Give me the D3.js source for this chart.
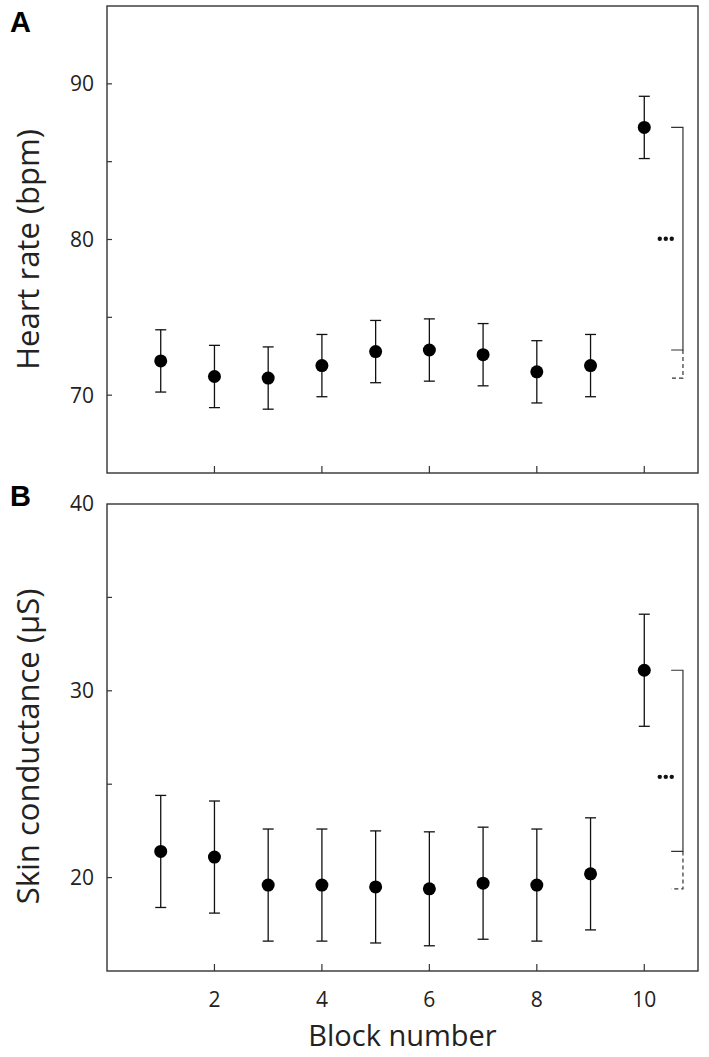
<!DOCTYPE html>
<html>
<head>
<meta charset="utf-8">
<script src="https://cdn.jsdelivr.net/npm/d3@7"></script>
<style>
  body { margin: 0; background: #fff; }
  svg { display: block; }
  .tickLabel { font-family: "Open Sans", "Noto Sans", sans-serif; font-size: 21px; fill: #222; }
  .axisTitle { font-family: "Open Sans", "Noto Sans", sans-serif; font-size: 31px; fill: #222; }
  .panelLetter { font-family: "Liberation Sans", Arial, sans-serif; font-size: 29px; font-weight: bold; fill: #000; }
</style>
</head>
<body>
<div id="chart"></div>
<script>
// 資料
var blocks = [1, 2, 3, 4, 5, 6, 7, 8, 9, 10];
var heartRate = [72.2, 71.2, 71.1, 71.9, 72.8, 72.9, 72.6, 71.5, 71.9, 87.2];
var heartRateErr = [2.0, 2.0, 2.0, 2.0, 2.0, 2.0, 2.0, 2.0, 2.0, 2.0];
var skinCond = [21.4, 21.1, 19.6, 19.6, 19.5, 19.4, 19.7, 19.6, 20.2, 31.1];
var skinCondErr = [3.0, 3.0, 3.0, 3.0, 3.0, 3.05, 3.0, 3.0, 3.0, 3.0];
var xTicks = [2, 4, 6, 8, 10];
var hrTicks = [70, 75, 80, 85, 90];
var scTicks = [20, 25, 30, 35, 40];

// 畫布
const width = 709, height = 1057;
const svg = d3.select('#chart').append('svg')
  .attr('width', width)
  .attr('height', height);

const xScale = d3.scaleLinear().domain([0, 11]).range([107, 698]);

function drawPanel(opt) {
  const y = d3.scaleLinear().domain(opt.domain).range(opt.range);
  const g = svg.append('g');
  const top = opt.range[1], bottom = opt.range[0];

  // 外框
  g.append('rect')
    .attr('x', xScale(0)).attr('y', top)
    .attr('width', xScale(11) - xScale(0))
    .attr('height', bottom - top)
    .attr('fill', 'none').attr('stroke', '#333').attr('stroke-width', 1.4);

  // Y軸刻度 (向內)
  g.selectAll('line.ytick')
    .data(opt.yTicks.filter(d => d > opt.domain[0] && d < opt.domain[1]))
    .enter().append('line')
    .attr('x1', xScale(0)).attr('x2', xScale(0) + 5)
    .attr('y1', d => y(d)).attr('y2', d => y(d))
    .attr('stroke', '#333').attr('stroke-width', 1.2);
  g.selectAll('text.ylab')
    .data(opt.yTicks.filter(d => d % 10 == 0))
    .enter().append('text')
    .attr('class', 'tickLabel')
    .attr('x', xScale(0) - 13)
    .attr('y', d => y(d))
    .attr('dy', '0.35em')
    .attr('text-anchor', 'end')
    .text(d => d);

  // X軸刻度
  g.selectAll('line.xtick')
    .data(xTicks)
    .enter().append('line')
    .attr('x1', d => xScale(d)).attr('x2', d => xScale(d))
    .attr('y1', bottom).attr('y2', bottom - 7)
    .attr('stroke', '#333').attr('stroke-width', 1.2);
  if (opt.xLabels) {
    g.selectAll('text.xlab')
      .data(xTicks)
      .enter().append('text')
      .attr('class', 'tickLabel')
      .attr('x', d => xScale(d))
      .attr('y', bottom + 36)
      .attr('text-anchor', 'middle')
      .text(d => d);
  }

  // 誤差線
  const cap = 5.5;
  const err = g.selectAll('g.err')
    .data(blocks.map((b, i) => ({ b: b, v: opt.values[i], e: opt.errs[i] })))
    .enter().append('g');
  err.append('line')
    .attr('x1', d => xScale(d.b)).attr('x2', d => xScale(d.b))
    .attr('y1', d => y(d.v + d.e)).attr('y2', d => y(d.v - d.e));
  err.append('line')
    .attr('x1', d => xScale(d.b) - cap).attr('x2', d => xScale(d.b) + cap)
    .attr('y1', d => y(d.v + d.e)).attr('y2', d => y(d.v + d.e));
  err.append('line')
    .attr('x1', d => xScale(d.b) - cap).attr('x2', d => xScale(d.b) + cap)
    .attr('y1', d => y(d.v - d.e)).attr('y2', d => y(d.v - d.e));
  err.selectAll('line').attr('stroke', '#111').attr('stroke-width', 1.3);

  // 點
  g.selectAll('circle.pt')
    .data(blocks.map((b, i) => ({ b: b, v: opt.values[i] })))
    .enter().append('circle')
    .attr('cx', d => xScale(d.b))
    .attr('cy', d => y(d.v))
    .attr('r', 6.5)
    .attr('fill', '#000');

  // 顯著性括號
  const others = opt.values.slice(0, 9);
  const hi = opt.values[9], mid = d3.max(others), lo = d3.min(others);
  const bx1 = xScale(10.5), bx2 = xScale(10.72);
  g.append('path')
    .attr('d', `M${bx1},${y(hi)}H${bx2}V${y(mid)}H${bx1}`)
    .attr('fill', 'none').attr('stroke', '#333').attr('stroke-width', 1.2);
  g.append('path')
    .attr('d', `M${bx2},${y(mid)}V${y(lo)}H${bx1}`)
    .attr('fill', 'none').attr('stroke', '#333').attr('stroke-width', 1.2)
    .attr('stroke-dasharray', '4,3');
  const starY = y((hi + mid) / 2) + opt.starShift;
  g.selectAll('circle.star')
    .data([-1, 0, 1])
    .enter().append('circle')
    .attr('cx', d => xScale(10.4) + d * 6)
    .attr('cy', starY)
    .attr('r', 2.2)
    .attr('fill', '#111');

  // 軸標題
  g.append('text')
    .attr('class', 'axisTitle')
    .attr('transform', `translate(39, ${(top + bottom) / 2 + opt.titleShift}) rotate(-90)`)
    .attr('text-anchor', 'middle')
    .text(opt.title);

  // 面板字母
  svg.append('text')
    .attr('class', 'panelLetter')
    .attr('x', 10)
    .attr('y', opt.letterY)
    .text(opt.letter);
}

drawPanel({
  domain: [65, 95], range: [473, 6],
  values: heartRate, errs: heartRateErr, yTicks: hrTicks,
  title: 'Heart rate (bpm)', titleShift: 10, starShift: 0,
  letter: 'A', letterY: 32, xLabels: false
});
drawPanel({
  domain: [15, 40], range: [971, 504],
  values: skinCond, errs: skinCondErr, yTicks: scTicks,
  title: 'Skin conductance (\u00b5S)', titleShift: 9, starShift: 16,
  letter: 'B', letterY: 506, xLabels: true
});

svg.append('text')
  .attr('class', 'axisTitle')
  .attr('x', (xScale(0) + xScale(11)) / 2)
  .attr('y', 1046)
  .attr('text-anchor', 'middle')
  .style('font-size', '29px')
  .text('Block number');
</script>
</body>
</html>
